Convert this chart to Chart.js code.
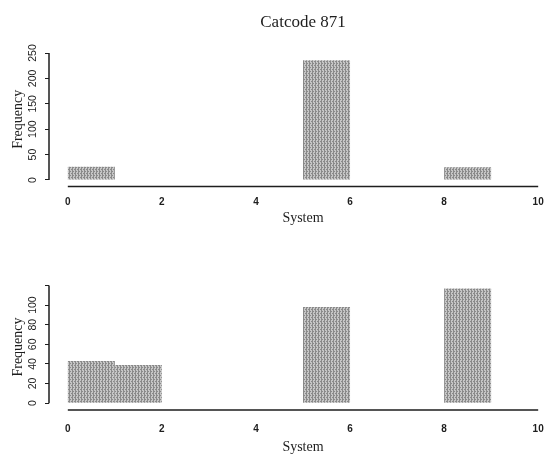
<!DOCTYPE html>
<html>
<head>
<meta charset="utf-8">
<script src="https://cdn.jsdelivr.net/npm/chart.js@4.4.1/dist/chart.umd.min.js"></script>
<style>
  body { margin: 0; background: #fff; width: 549px; height: 458px; overflow: hidden; position: relative; }
  canvas { position: absolute; left: 0; }
  #top { top: 0; }
  #bottom { top: 240px; }
</style>
</head>
<body>
<canvas id="top" width="570" height="229"></canvas>
<canvas id="bottom" width="570" height="218"></canvas>
<script>
// histogram bins (left edge .. left edge + 1), centres used for the bars
const binCentres = [0.5, 1.5, 2.5, 3.5, 4.5, 5.5, 6.5, 7.5, 8.5, 9.5];
const topCounts = [26, 0, 0, 0, 0, 236, 0, 0, 25, 0];
const bottomCounts = [43, 39, 0, 0, 0, 98, 0, 0, 117, 0];

const xTicks = [0, 2, 4, 6, 8, 10];
const topYTicks = [0, 50, 100, 150, 200, 250];
const bottomYTicks = [0, 20, 40, 60, 80, 100, 120];
const bottomYTickLabels = ['0', '20', '40', '60', '80', '100', ''];

const chartTitle = 'Catcode 871';
const xTitle = 'System';
const yTitle = 'Frequency';

const ink = '#1e1e1e';
const serif = 'Liberation Serif';
const sans = 'Liberation Sans';

function halftone() {
    const c = document.createElement('canvas');
    c.width = 3; c.height = 4;
    const g = c.getContext('2d');
    g.fillStyle = '#c6c6c6';
    g.fillRect(0, 0, 3, 4);
    g.fillStyle = '#8a8a8a';
    g.fillRect(0, 0, 1, 4);
    g.fillRect(2, 1, 1, 1);
    g.fillRect(1, 3, 1, 1);
    return g.createPattern(c, 'repeat');
}

// R style axes: y line from 0 to the last tick, x line from 0 to 10
const axisLines = {
    id: 'axisLines',
    afterDraw(chart) {
        const {ctx, chartArea, scales: {x, y}} = chart;
        const last = y.ticks[y.ticks.length - 1].value;
        ctx.save();
        ctx.strokeStyle = ink;
        ctx.lineWidth = 1.5;
        ctx.beginPath();
        ctx.moveTo(chartArea.left, y.getPixelForValue(last));
        ctx.lineTo(chartArea.left, y.getPixelForValue(0));
        ctx.moveTo(x.getPixelForValue(xTicks[0]), chartArea.bottom);
        ctx.lineTo(x.getPixelForValue(xTicks[xTicks.length - 1]), chartArea.bottom);
        ctx.stroke();
        ctx.restore();
    }
};

function makeHist(id, counts, yTicks, yLabels, yMin, yMax, opts) {
    const ctx = document.getElementById(id).getContext('2d');
    return new Chart(ctx, {
        type: 'bar',
        data: {
            datasets: [{
                data: binCentres.map((c, i) => ({x: c, y: counts[i]})),
                backgroundColor: halftone(),
                borderWidth: 0,
                inflateAmount: 0,
                categoryPercentage: 1,
                barPercentage: 1
            }]
        },
        options: {
            responsive: false,
            animation: false,
            layout: {padding: {top: opts.padTop, right: 13, left: 0, bottom: 0}},
            plugins: {
                legend: {display: false},
                tooltip: {enabled: false},
                title: {
                    display: !!opts.title,
                    text: opts.title,
                    fullSize: false,
                    color: ink,
                    font: {family: serif, size: 17, weight: 'normal'},
                    padding: {top: 12, bottom: 19.6}
                }
            },
            scales: {
                x: {
                    type: 'linear',
                    min: -0.4,
                    max: 10.4,
                    offset: false,
                    afterBuildTicks: s => { s.ticks = xTicks.map(v => ({value: v})); },
                    afterFit: s => { s.height = opts.xHeight; },
                    grid: {display: false, drawTicks: false},
                    border: {display: false},
                    ticks: {
                        color: ink,
                        padding: opts.xTickPad,
                        maxRotation: 0,
                        autoSkip: false,
                        font: {family: sans, size: 10, weight: 'bold'}
                    },
                    title: {
                        display: true,
                        text: xTitle,
                        color: ink,
                        font: {family: serif, size: 14},
                        padding: {top: 0, bottom: 2.6}
                    }
                },
                y: {
                    min: yMin,
                    max: yMax,
                    afterBuildTicks: s => { s.ticks = yTicks.map(v => ({value: v})); },
                    afterFit: s => { s.width = 49; },
                    grid: {display: true, drawOnChartArea: false, drawTicks: true, tickLength: 4, color: ink, lineWidth: 1},
                    border: {display: false},
                    ticks: {
                        color: ink,
                        padding: 3,
                        minRotation: 90,
                        maxRotation: 90,
                        crossAlign: 'center',
                        autoSkip: false,
                        font: {family: sans, size: 10.5},
                        callback: (v) => yLabels[yTicks.indexOf(v)]
                    },
                    title: {
                        display: true,
                        text: yTitle,
                        color: ink,
                        font: {family: serif, size: 14},
                        padding: {top: 10, bottom: 0}
                    }
                }
            }
        },
        plugins: [axisLines]
    });
}

makeHist('top', topCounts, topYTicks, topYTicks.map(String), -13, 252,
    {title: chartTitle, padTop: 0, xHeight: 42.4, xTickPad: 9.5});
makeHist('bottom', bottomCounts, bottomYTicks, bottomYTickLabels, -7, 121.5,
    {title: '', padTop: 44, xHeight: 48, xTickPad: 13});
</script>
</body>
</html>
